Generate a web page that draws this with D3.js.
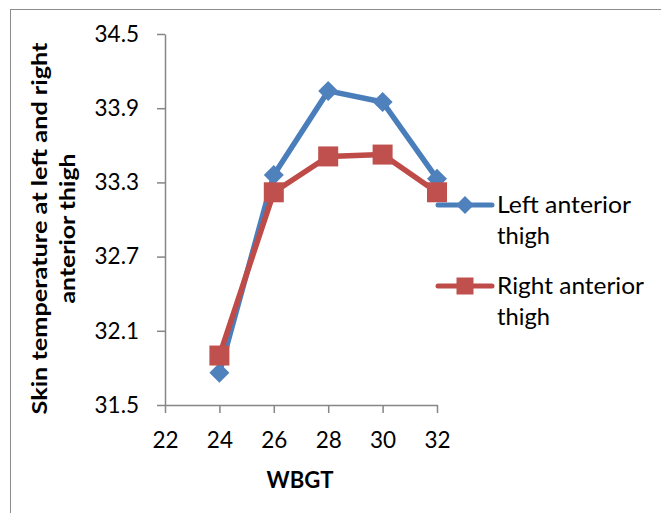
<!DOCTYPE html>
<html><head><meta charset="utf-8">
<script src="https://cdn.jsdelivr.net/npm/d3@7"></script>
<style>body{margin:0;background:#fff;}svg{display:block;}</style>
</head><body>
<script>
const wbgt = [24, 26, 28, 30, 32];
const leftThigh = [31.76, 33.36, 34.04, 33.95, 33.33];
const rightThigh = [31.90, 33.22, 33.51, 33.525, 33.22];
const seriesNames = ["Left anterior thigh", "Right anterior thigh"];
const xTicks = [22, 24, 26, 28, 30, 32];
const yTicks = [31.5, 32.1, 32.7, 33.3, 33.9, 34.5];

const W = 661, H = 513;
const svg = d3.select("body").append("svg").attr("width", W).attr("height", H);
svg.append("rect").attr("x", 10.5).attr("y", 9.5).attr("width", 700).attr("height", 600)
  .attr("fill", "none").attr("stroke", "#8c8c8c").attr("stroke-width", 1);

const x = d3.scaleLinear().domain([22, 32]).range([165, 437]);
const y = d3.scaleLinear().domain([31.5, 34.5]).range([405, 34]);
const axisColor = "#868686";
const font = "Lato, 'Open Sans', sans-serif";

const xa = svg.append("g").attr("transform", "translate(0,405)")
  .call(d3.axisBottom(x).tickValues(xTicks).tickSize(8).tickSizeOuter(0).tickPadding(19).tickFormat(d3.format("d")));
const ya = svg.append("g").attr("transform", "translate(165,0)")
  .call(d3.axisLeft(y).tickValues(yTicks).tickSize(8).tickSizeOuter(0).tickPadding(18).tickFormat(d3.format(".1f")));
[xa, ya].forEach(g => {
  g.select(".domain").attr("stroke", axisColor).attr("stroke-width", 1.5);
  g.selectAll(".tick line").attr("stroke", axisColor).attr("stroke-width", 1.5);
  g.selectAll(".tick text").attr("fill", "#000").style("font-family", font).style("font-size", "22.5px");
});

const series = [
  {name: seriesNames[0], vals: leftThigh, color: "#4A7EBB", fill: "#4F81BD", shape: "diamond"},
  {name: seriesNames[1], vals: rightThigh, color: "#BE4B48", fill: "#C0504D", shape: "square"}
];
const line = d3.line().x(d => x(d[0])).y(d => y(d[1]));
function diamondPath(cx, cy, r) {
  return `M${cx},${cy - r}L${cx + r},${cy}L${cx},${cy + r}L${cx - r},${cy}Z`;
}
series.forEach(s => {
  const pts = wbgt.map((w, i) => [w, s.vals[i]]);
  svg.append("path").attr("d", line(pts)).attr("fill", "none").attr("stroke", s.color)
    .attr("stroke-width", 5.5).attr("stroke-linejoin", "round").attr("stroke-linecap", "round");
  pts.forEach(p => {
    if (s.shape === "diamond") svg.append("path").attr("d", diamondPath(x(p[0]), y(p[1]), 10)).attr("fill", s.fill);
    else svg.append("rect").attr("x", x(p[0]) - 10).attr("y", y(p[1]) - 10).attr("width", 20).attr("height", 20).attr("fill", s.fill);
  });
});

// legend
const legY = [205, 286];
const legLens = [[134, 53], [147, 53]];
series.forEach((s, i) => {
  const ly = legY[i];
  svg.append("line").attr("x1", 438).attr("x2", 492).attr("y1", ly).attr("y2", ly)
    .attr("stroke", s.color).attr("stroke-width", 5).attr("stroke-linecap", "round");
  if (s.shape === "diamond") svg.append("path").attr("d", diamondPath(465, ly, 9)).attr("fill", s.fill);
  else svg.append("rect").attr("x", 456.5).attr("y", ly - 8.5).attr("width", 17).attr("height", 17).attr("fill", s.fill);
  const words = s.name.split(" ");
  const lines = [words.slice(0, 2).join(" "), words.slice(2).join(" ")];
  lines.forEach((txt, j) => {
    svg.append("text").attr("x", 497).attr("y", ly + 8 + j * 31)
      .attr("textLength", legLens[i][j]).attr("lengthAdjust", "spacingAndGlyphs")
      .style("font-family", font).style("font-size", "23px").attr("fill", "#000").text(txt);
  });
});

// axis titles
svg.append("text").attr("x", 300).attr("y", 488).attr("text-anchor", "middle")
  .attr("textLength", 67).attr("lengthAdjust", "spacingAndGlyphs")
  .style("font-family", font).style("font-weight", "bold").style("font-size", "23px").text("WBGT");
const titleLines = ["Skin temperature at left and right", "anterior thigh"];
const titleLens = [372, 150];
const titleBase = [47, 75];
titleLines.forEach((txt, j) => {
  svg.append("text").attr("transform", "translate(0,228.5) rotate(-90)").attr("text-anchor", "middle")
    .attr("x", 0).attr("y", titleBase[j])
    .attr("textLength", titleLens[j]).attr("lengthAdjust", "spacingAndGlyphs")
    .style("font-family", font).style("font-weight", "bold").style("font-size", "21px").text(txt);
});
</script>
</body></html>
